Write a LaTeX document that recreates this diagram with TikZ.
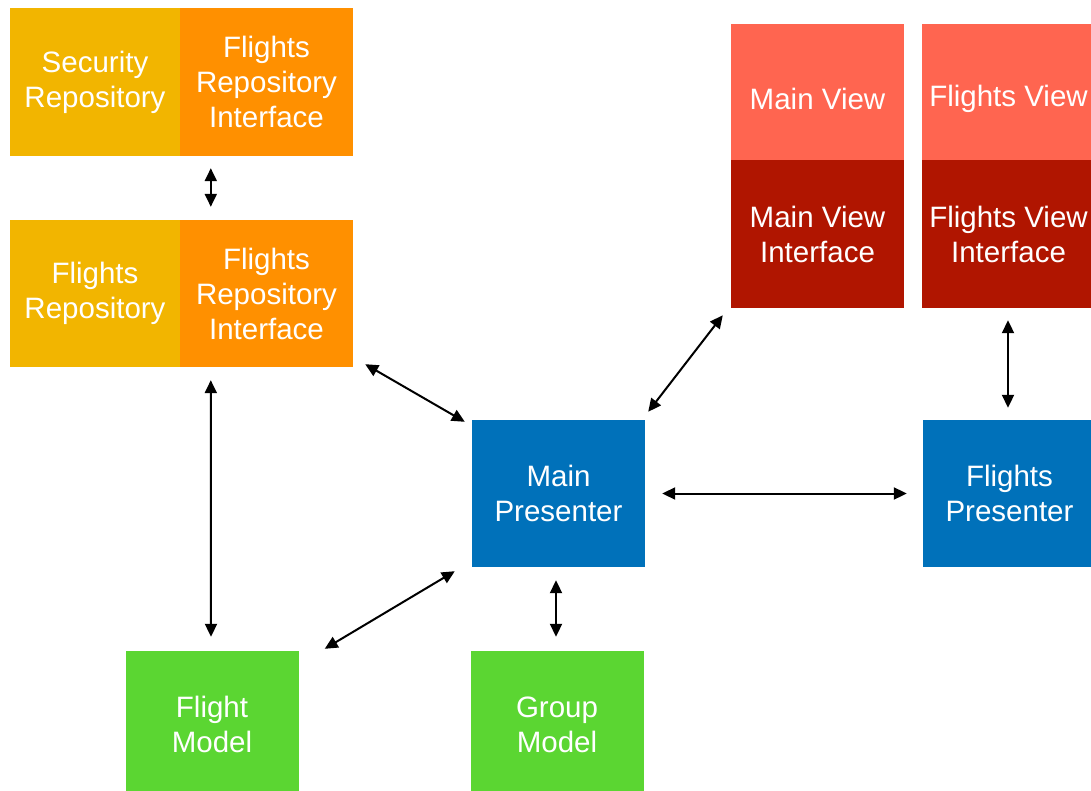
\documentclass[tikz,border=0pt]{standalone}
\usepackage{fontspec}
\setmainfont{Liberation Sans}
\usetikzlibrary{arrows.meta}
\definecolor{repoyellow}{HTML}{F2B500}
\definecolor{ifaceorange}{HTML}{FF9000}
\definecolor{viewred}{HTML}{FF6550}
\definecolor{viewdark}{HTML}{B01500}
\definecolor{presblue}{HTML}{0071BA}
\definecolor{modelgreen}{HTML}{5BD632}
\tikzset{
  block/.style={rectangle, draw=none, text=white, align=center,
    inner sep=0pt, font=\fontsize{29.5pt}{35pt}\selectfont},
  wide/.style={minimum width=173pt},
  narrow/.style={minimum width=170pt},
  link/.style={line width=2pt,
    {Triangle[length=13pt,width=12pt]}-{Triangle[length=13pt,width=12pt]}}
}
\begin{document}
\begin{tikzpicture}[x=1pt,y=-1pt]
\clip (0,0) rectangle (1091,791);
\fill[white] (0,0) rectangle (1091,791);

% repositories and their interfaces
\node[block, narrow, minimum height=148pt, fill=repoyellow] (secrepo) at (95,82) {Security\\Repository};
\node[block, wide, minimum height=148pt, fill=ifaceorange] (repoif1) at (266.5,82) {Flights\\Repository\\Interface};
\node[block, narrow, minimum height=147pt, fill=repoyellow] (flrepo) at (95,293.5) {Flights\\Repository};
\node[block, wide, minimum height=147pt, fill=ifaceorange] (repoif2) at (266.5,293.5) {Flights\\Repository\\Interface};

% views and their interfaces
\node[block, wide, minimum height=136pt, fill=viewred] (mainview) at (817.5,92) {};
\node[block] at (817.5,99) {Main View};
\node[block, wide, minimum height=148pt, fill=viewdark] (mainviewif) at (817.5,234) {Main View\\Interface};
\node[block, wide, minimum height=136pt, fill=viewred] (flview) at (1008.5,92) {};
\node[block] at (1008.5,99) {Flights View};
\node[block, wide, minimum height=148pt, fill=viewdark] (flviewif) at (1008.5,234) {Flights View\\Interface};

% presenters
\node[block, wide, minimum height=147pt, fill=presblue] (mainpres) at (558.5,493.5) {Main\\Presenter};
\node[block, wide, minimum height=147pt, fill=presblue] (flpres) at (1009.5,493.5) {Flights\\Presenter};

% models
\node[block, wide, minimum height=147pt, fill=modelgreen] (flmodel) at (212,724.5) {Flight\\Model};
\node[block, wide, minimum height=147pt, fill=modelgreen] (grmodel) at (557,724.5) {Group\\Model};

% connectors
\draw[link] ([xshift=31pt,yshift=-12pt]repoif1.south west) -- ([xshift=31pt,yshift=13pt]repoif2.north west);
\draw[link] ([xshift=31pt,yshift=-13pt]repoif2.south west) -- ([xshift=-1pt,yshift=14pt]flmodel.north);
\draw[link] ([xshift=12pt,yshift=3pt]repoif2.south east) -- ([xshift=-7pt,yshift=-2pt]mainpres.north west);
\draw[link] ([xshift=3pt,yshift=8pt]mainpres.north east) -- ([xshift=-8pt,yshift=-7pt]mainviewif.south west);
\draw[link] ([xshift=-0.5pt,yshift=-12pt]flviewif.south) -- ([xshift=-1.5pt,yshift=12pt]flpres.north);
\draw[link] ([xshift=17pt]mainpres.east) -- ([xshift=-16pt]flpres.west);
\draw[link] ([xshift=-2.5pt,yshift=-13pt]mainpres.south) -- ([xshift=-1pt,yshift=14pt]grmodel.north);
\draw[link] ([xshift=26pt,yshift=2pt]flmodel.north east) -- ([xshift=-17pt,yshift=-4pt]mainpres.south west);
\end{tikzpicture}
\end{document}
